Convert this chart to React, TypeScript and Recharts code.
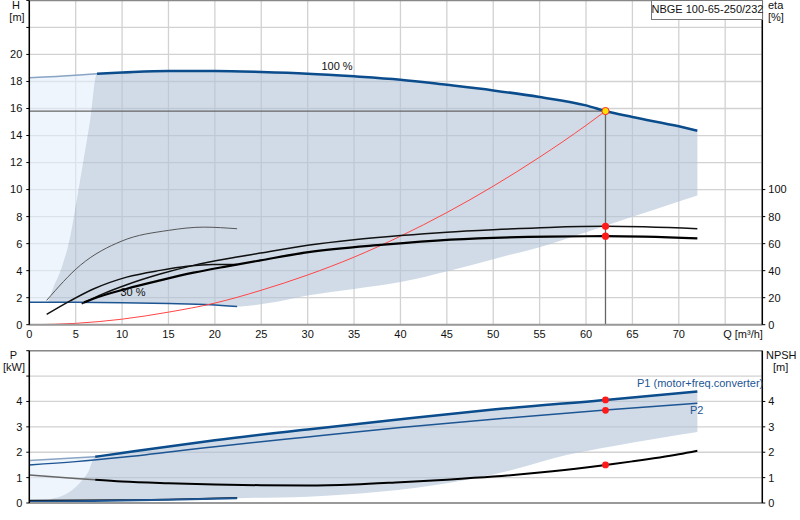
import * as React from "react";
import {
  ComposedChart,
  Line,
  Area,
  XAxis,
  YAxis,
  CartesianGrid,
  ReferenceLine,
  ReferenceDot,
} from "recharts";

// axis ticks
const qTicks = [0, 5, 10, 15, 20, 25, 30, 35, 40, 45, 50, 55, 60, 65, 70, 75];
const hTicks = [0, 2, 4, 6, 8, 10, 12, 14, 16, 18, 20, 22, 24];
const etaTicks = [0, 20, 40, 60, 80, 100];
const pTicks = [0, 1, 2, 3, 4, 5, 6];
const npshTicks = [0, 1, 2, 3, 4];

// duty point
const dutyQ = 62.1;
const dutyH = 15.81;
const dutyEtaPump = 72.8;
const dutyEtaTotal = 65.5;
const dutyP1 = 4.06;
const dutyP2 = 3.65;
const dutyNpsh = 1.5;

// H curves [m]
const head100Q = [7.3, 10, 15, 20, 25, 30, 35, 40, 45, 50, 55, 60, 62.1, 65, 70, 72];
const head100H = [18.58, 18.66, 18.77, 18.77, 18.7, 18.58, 18.38, 18.13, 17.75, 17.34, 16.85, 16.23, 15.81, 15.37, 14.68, 14.36];
const head100LowQ = [0, 5, 7.3];
const head100LowH = [18.28, 18.46, 18.58];
const head30Q = [0, 5, 10, 15, 19.5, 22.4];
const head30H = [1.67, 1.66, 1.63, 1.57, 1.48, 1.35];
const systemQ = [0.6, 5, 10, 15, 20, 25, 30, 35, 40, 45, 50, 55, 60, 62.1];
const systemH = [0, 0.1, 0.41, 0.93, 1.6, 2.55, 3.68, 5.0, 6.55, 8.3, 10.25, 12.4, 14.75, 15.81];

// eta curves [%]
const etaPump30Q = [1.87, 5.5, 10, 15, 18.8, 22.4];
const etaPump30 = [18, 44, 62, 69.8, 72.2, 71];
const etaTotal30Q = [1.87, 4.4, 6.9, 10.5, 14.1, 17, 19.8, 22.4];
const etaTotal30 = [7.6, 17.6, 26.4, 35.2, 40.2, 43.2, 44.6, 44.5];
const etaPumpQ = [5.65, 8, 10.5, 14.1, 17.7, 21.3, 24.9, 30, 35, 40, 45, 50, 56, 62.1, 72];
const etaPump = [15.5, 23, 29.6, 37.5, 43.9, 48.8, 53, 58.8, 62.9, 66, 68.5, 70.3, 72, 72.8, 71];
const etaTotalQ = [5.9, 6.9, 10.5, 14.1, 17.7, 21.3, 24.9, 30.1, 38.2, 45.4, 56, 62.1, 72];
const etaTotal = [16.5, 19.2, 26.6, 32.8, 38.5, 43.2, 47.6, 53.7, 59.2, 62.9, 65.2, 65.5, 63.9];

// operating range (H)
const rangeQ = [2.05, 2.6, 3.5, 4.39, 5.1, 5.83, 6.55, 7.3, 10, 15, 20, 22.4, 26, 30, 35, 40, 45.4, 50.8, 55, 60, 62.1, 65, 70, 72];
const rangeLo = [1.66, 1.66, 1.65, 1.65, 1.65, 1.64, 1.64, 1.63, 1.63, 1.57, 1.47, 1.35, 1.63, 2.17, 2.65, 3.16, 4.02, 5.0, 5.74, 6.85, 7.33, 7.98, 9.11, 9.57];
const rangeHi = [1.72, 2.78, 4.26, 6.48, 9.2, 12.16, 15.12, 18.58, 18.66, 18.77, 18.77, 18.73, 18.68, 18.58, 18.38, 18.13, 17.72, 17.27, 16.86, 16.23, 15.81, 15.37, 14.68, 14.36];
const lightQ = [0, 2.05, 2.6, 3.5, 4.39, 5.1, 5.83, 6.55, 7.3];
const lightLo = [1.67, 1.72, 2.78, 4.26, 6.48, 9.2, 12.16, 15.12, 18.58];
const lightHi = [18.28, 18.38, 18.4, 18.42, 18.44, 18.46, 18.5, 18.54, 18.58];

// power curves [kW]
const p1Q = [7.1, 10, 20, 30, 40, 50, 62.1, 72];
const p1 = [1.82, 1.97, 2.47, 2.9, 3.3, 3.68, 4.06, 4.39];
const p1LowQ = [0, 7.1];
const p1Low = [1.67, 1.82];
const p2Q = [0, 5, 10, 20, 30, 40, 50, 62.1, 72];
const p2 = [1.5, 1.63, 1.8, 2.22, 2.6, 2.97, 3.3, 3.66, 3.93];
const p1Min30Q = [0, 5, 10, 15, 22.4];
const p1Min30 = [0.05, 0.07, 0.1, 0.13, 0.19];
const p2Min30Q = [0, 10, 15, 22.4];
const p2Min30 = [0.1, 0.12, 0.14, 0.21];
const npshLowQ = [0, 5, 7.1];
const npshLow = [1.1, 0.97, 0.92];
const npshQ = [7.1, 10, 15, 20, 25, 30, 35, 40, 45, 50, 55, 60, 62.1, 65, 70, 72];
const npsh = [0.92, 0.85, 0.78, 0.73, 0.7, 0.69, 0.73, 0.82, 0.92, 1.04, 1.2, 1.4, 1.5, 1.64, 1.92, 2.06];

// operating range (P)
const pRangeQ = [1.7, 2.2, 3.85, 5.47, 6.36, 7.1, 10, 20, 22.4, 30, 38, 45, 52, 58, 63, 72];
const pRangeLo = [0.06, 0.06, 0.07, 0.08, 0.08, 0.09, 0.1, 0.16, 0.19, 0.25, 0.45, 0.78, 1.3, 1.9, 2.25, 2.8];
const pRangeHi = [0.09, 0.14, 0.33, 0.8, 1.23, 1.82, 1.97, 2.47, 2.57, 2.9, 3.22, 3.5, 3.75, 3.93, 4.09, 4.39];
const pLightQ = [0, 1.7, 2.2, 3.85, 5.47, 6.36, 7.1];
const pLightLo = [0.05, 0.09, 0.14, 0.33, 0.8, 1.23, 1.82];
const pLightHi = [1.67, 1.7, 1.71, 1.74, 1.77, 1.79, 1.82];

const zip = (q: number[], v: number[]) => q.map((x, i) => ({ q: x, v: v[i] }));
const zipRange = (q: number[], lo: number[], hi: number[]) =>
  q.map((x, i) => ({ q: x, r: [lo[i], hi[i]] }));

const FONT = "'Liberation Sans', Arial, sans-serif";
const DARK_BLUE = "#0b4c8c";
const BLUE = "#1d5593";
const PALE_BLUE = "#8aa4c4";
const SHADE = "#b1c3d7";
const LIGHT_SHADE = "#e3eefa";
const GRID = "#d2d2d2";

const tickStyle = { fill: "#111", fontSize: 11, fontFamily: FONT };

function XTick(props: any) {
  const { x, y, payload } = props;
  if (payload.value === 75) {
    return (
      <text x={x - 2} y={y} dy="0.71em" textAnchor="start" style={tickStyle}>
        Q [m³/h]
      </text>
    );
  }
  return (
    <text x={x} y={y} dy="0.71em" textAnchor="middle" style={tickStyle}>
      {payload.value}
    </text>
  );
}

function Txt(props: { x: number; y: number; children: React.ReactNode; align?: string; color?: string }) {
  const { x, y, align, color } = props;
  return (
    <div
      style={{
        position: "absolute",
        left: x,
        top: y,
        transform: align === "left" ? undefined : "translateX(-50%)",
        fontFamily: FONT,
        fontSize: 11,
        lineHeight: "12px",
        color: color || "#111",
        whiteSpace: "nowrap",
      }}
    >
      {props.children}
    </div>
  );
}

function line(data: any[], yAxisId: string, stroke: string, width: number, type: any = "monotone") {
  return (
    <Line
      data={data}
      dataKey="v"
      yAxisId={yAxisId}
      type={type}
      stroke={stroke}
      strokeWidth={width}
      dot={false}
      activeDot={false}
      isAnimationActive={false}
    />
  );
}

export default function App() {
  const crossData = [
    { q: 0, v: dutyH },
    { q: dutyQ, v: dutyH },
    { q: dutyQ, v: 0 },
  ];

  return (
    <div style={{ position: "absolute", left: 0, top: 0, width: 800, height: 520, background: "#fff" }}>
      <div style={{ position: "absolute", left: 0, top: 0 }}>
        <ComposedChart width={800} height={345} margin={{ top: 0.4, right: 0, bottom: 0, left: 0 }}>
          <CartesianGrid yAxisId="h" stroke={GRID} strokeWidth={1.3} />
          <XAxis
            dataKey="q"
            type="number"
            domain={[0, 79]}
            ticks={qTicks}
            interval={0}
            allowDataOverflow
            height={20.3}
            tickSize={3}
            tickMargin={2}
            tickLine={false}
            tick={<XTick />}
            axisLine={{ stroke: "#999", strokeWidth: 2 }}
          />
          <YAxis
            yAxisId="h"
            type="number"
            domain={[0, 24]}
            ticks={hTicks}
            interval={0}
            allowDataOverflow
            width={29.3}
            tickSize={3}
            tickMargin={4}
            tick={tickStyle}
            tickFormatter={(v: number) => (v <= 20 ? String(v) : "")}
            axisLine={{ stroke: "#000", strokeWidth: 1.5 }}
            tickLine={{ stroke: "#000" }}
          />
          <YAxis
            yAxisId="eta"
            orientation="right"
            type="number"
            domain={[0, 240]}
            ticks={etaTicks}
            interval={0}
            allowDataOverflow
            width={37.7}
            tickSize={3}
            tickMargin={3}
            tick={tickStyle}
            axisLine={{ stroke: "#000", strokeWidth: 1.5 }}
            tickLine={{ stroke: "#000" }}
          />
          <ReferenceLine yAxisId="h" y={24} stroke="#888" strokeWidth={1.5} />
          <Area
            data={zipRange(lightQ, lightLo, lightHi)}
            dataKey="r"
            yAxisId="h"
            type="monotone"
            fill={LIGHT_SHADE}
            fillOpacity={0.6}
            stroke="none"
            isAnimationActive={false}
          />
          <Area
            data={zipRange(rangeQ, rangeLo, rangeHi)}
            dataKey="r"
            yAxisId="h"
            type="monotone"
            fill={SHADE}
            fillOpacity={0.6}
            stroke="none"
            isAnimationActive={false}
          />
          {line(crossData, "h", "#666", 1.3, "linear")}
          {line(zip(head100LowQ, head100LowH), "h", PALE_BLUE, 1.5)}
          {line(zip(head100Q, head100H), "h", DARK_BLUE, 2.5)}
          {line(zip(head30Q, head30H), "h", BLUE, 1.5)}
          {line(zip(systemQ, systemH), "h", "#ff4545", 1)}
          {line(zip(etaPump30Q, etaPump30), "eta", "#555", 1)}
          {line(zip(etaTotal30Q, etaTotal30), "eta", "#111", 1.5)}
          {line(zip(etaPumpQ, etaPump), "eta", "#111", 1.5)}
          {line(zip(etaTotalQ, etaTotal), "eta", "#000", 2.2)}
          <ReferenceDot yAxisId="eta" x={dutyQ} y={dutyEtaPump} r={3.6} fill="#ff1a1a" stroke="none" />
          <ReferenceDot yAxisId="eta" x={dutyQ} y={dutyEtaTotal} r={3.6} fill="#ff1a1a" stroke="none" />
          <ReferenceDot yAxisId="h" x={dutyQ} y={dutyH} r={3.6} fill="#ffe000" stroke="#ff2a2a" strokeWidth={1} />
        </ComposedChart>
      </div>

      <div style={{ position: "absolute", left: 0, top: 345 }}>
        <ComposedChart width={800} height={175} margin={{ top: 5.7, right: 0, bottom: 0, left: 0 }}>
          <CartesianGrid yAxisId="p" stroke={GRID} strokeWidth={1.3} />
          <XAxis
            dataKey="q"
            type="number"
            domain={[0, 79]}
            ticks={qTicks}
            interval={0}
            allowDataOverflow
            height={17}
            tick={false}
            tickLine={false}
            axisLine={{ stroke: "#999", strokeWidth: 2 }}
          />
          <YAxis
            yAxisId="p"
            type="number"
            domain={[0, 6]}
            ticks={pTicks}
            interval={0}
            allowDataOverflow
            width={29.3}
            tickSize={3}
            tickMargin={4}
            tick={tickStyle}
            tickFormatter={(v: number) => (v <= 4 ? String(v) : "")}
            axisLine={{ stroke: "#000", strokeWidth: 1.5 }}
            tickLine={{ stroke: "#000" }}
          />
          <YAxis
            yAxisId="n"
            orientation="right"
            type="number"
            domain={[0, 6]}
            ticks={npshTicks}
            interval={0}
            allowDataOverflow
            width={37.7}
            tickSize={3}
            tickMargin={3}
            tick={tickStyle}
            axisLine={{ stroke: "#000", strokeWidth: 1.5 }}
            tickLine={{ stroke: "#000" }}
          />
          <ReferenceLine yAxisId="p" y={6} stroke="#888" strokeWidth={1.5} />
          <Area
            data={zipRange(pLightQ, pLightLo, pLightHi)}
            dataKey="r"
            yAxisId="p"
            type="monotone"
            fill={LIGHT_SHADE}
            fillOpacity={0.6}
            stroke="none"
            isAnimationActive={false}
          />
          <Area
            data={zipRange(pRangeQ, pRangeLo, pRangeHi)}
            dataKey="r"
            yAxisId="p"
            type="monotone"
            fill={SHADE}
            fillOpacity={0.6}
            stroke="none"
            isAnimationActive={false}
          />
          {line(zip(p1LowQ, p1Low), "p", PALE_BLUE, 1.5)}
          {line(zip(p1Q, p1), "p", DARK_BLUE, 2.5)}
          {line(zip(p2Q, p2), "p", BLUE, 1.5)}
          {line(zip(p2Min30Q, p2Min30), "p", "#111", 1.5)}
          {line(zip(p1Min30Q, p1Min30), "p", BLUE, 2)}
          {line(zip(npshLowQ, npshLow), "n", "#666", 1.5)}
          {line(zip(npshQ, npsh), "n", "#000", 2)}
          <ReferenceDot yAxisId="p" x={dutyQ} y={dutyP1} r={3.4} fill="#ff1a1a" stroke="none" />
          <ReferenceDot yAxisId="p" x={dutyQ} y={dutyP2} r={3.4} fill="#ff1a1a" stroke="none" />
          <ReferenceDot yAxisId="n" x={dutyQ} y={dutyNpsh} r={3.4} fill="#ff1a1a" stroke="none" />
        </ComposedChart>
      </div>

      <div
        style={{
          position: "absolute",
          left: 650.5,
          top: 0,
          width: 110,
          height: 18,
          border: "1px solid #777",
          background: "#fff",
          fontFamily: FONT,
          fontSize: 11,
          lineHeight: "16px",
          textAlign: "center",
          color: "#111",
          whiteSpace: "nowrap",
        }}
      >
        NBGE 100-65-250/232
      </div>

      <Txt x={16} y={-1}>H</Txt>
      <Txt x={17} y={11}>[m]</Txt>
      <Txt x={768} y={-1} align="left">eta</Txt>
      <Txt x={768} y={10.5} align="left">[%]</Txt>
      <Txt x={337} y={60}>100 %</Txt>
      <Txt x={133} y={286}>30 %</Txt>
      <Txt x={13.5} y={349}>P</Txt>
      <Txt x={14} y={360.5}>[kW]</Txt>
      <Txt x={766} y={349} align="left">NPSH</Txt>
      <Txt x={773} y={360.5} align="left">[m]</Txt>
      <Txt x={637} y={376.5} align="left" color={BLUE}>P1 (motor+freq.converter)</Txt>
      <Txt x={690} y={404} align="left" color={BLUE}>P2</Txt>
    </div>
  );
}
